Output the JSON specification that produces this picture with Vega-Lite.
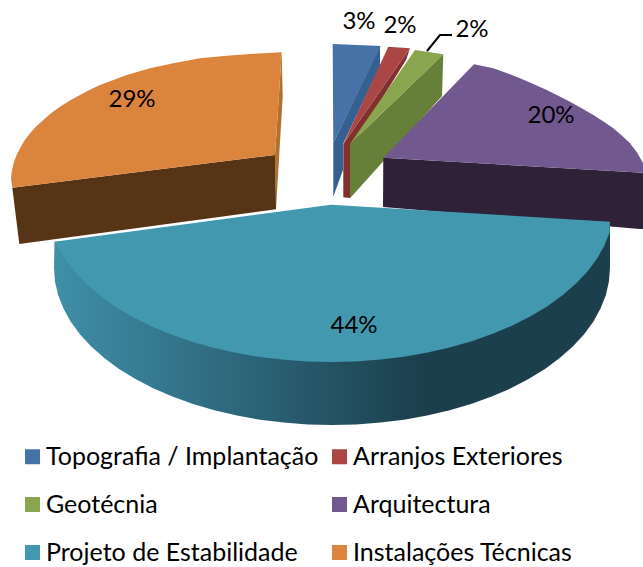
{
"$schema":"https://vega.github.io/schema/vega-lite/v6.json",
"width":643,"height":567,"padding":0,"autosize":{"type":"none"},
"background":"white",
"config":{"view":{"stroke":null}},
"datasets":{
"tops":[
{"slice":"Topografia / Implantação","order":1,"x":332.7,"y":44},{"slice":"Topografia / Implantação","order":2,"x":380.7,"y":46},{"slice":"Topografia / Implantação","order":3,"x":333.3,"y":143},
{"slice":"Arranjos Exteriores","order":1,"x":388.3,"y":46.7},{"slice":"Arranjos Exteriores","order":2,"x":410,"y":48.3},{"slice":"Arranjos Exteriores","order":3,"x":343.3,"y":144},
{"slice":"Geotécnia","order":1,"x":415,"y":50},{"slice":"Geotécnia","order":2,"x":443.3,"y":54.3},{"slice":"Geotécnia","order":3,"x":350,"y":144},
{"slice":"Arquitectura","order":1,"x":383.3,"y":157.7},{"slice":"Arquitectura","order":2,"x":474,"y":64.3},{"slice":"Arquitectura","order":3,"x":493.3,"y":68.3},{"slice":"Arquitectura","order":4,"x":506.5,"y":73},{"slice":"Arquitectura","order":5,"x":520,"y":78.3},{"slice":"Arquitectura","order":6,"x":533.3,"y":84},{"slice":"Arquitectura","order":7,"x":546.7,"y":90},{"slice":"Arquitectura","order":8,"x":558.3,"y":95.7},{"slice":"Arquitectura","order":9,"x":570,"y":101.7},{"slice":"Arquitectura","order":10,"x":581.7,"y":108.2},{"slice":"Arquitectura","order":11,"x":593.3,"y":115},{"slice":"Arquitectura","order":12,"x":603.5,"y":121.5},{"slice":"Arquitectura","order":13,"x":613.3,"y":128.3},{"slice":"Arquitectura","order":14,"x":621.8,"y":135.6},{"slice":"Arquitectura","order":15,"x":630,"y":143.3},{"slice":"Arquitectura","order":16,"x":637,"y":152.5},{"slice":"Arquitectura","order":17,"x":643,"y":163},{"slice":"Arquitectura","order":18,"x":643,"y":172.7},
{"slice":"Projeto de Estabilidade","order":1,"x":331,"y":204.7},{"slice":"Projeto de Estabilidade","order":2,"x":610,"y":221.7},{"slice":"Projeto de Estabilidade","order":3,"x":609.7,"y":232.3},{"slice":"Projeto de Estabilidade","order":4,"x":604.4,"y":245.6},{"slice":"Projeto de Estabilidade","order":5,"x":597,"y":258.7},{"slice":"Projeto de Estabilidade","order":6,"x":587.4,"y":271.4},{"slice":"Projeto de Estabilidade","order":7,"x":576.1,"y":283.5},{"slice":"Projeto de Estabilidade","order":8,"x":562.8,"y":295.1},{"slice":"Projeto de Estabilidade","order":9,"x":547.8,"y":305.9},{"slice":"Projeto de Estabilidade","order":10,"x":531.1,"y":316},{"slice":"Projeto de Estabilidade","order":11,"x":513,"y":325.3},{"slice":"Projeto de Estabilidade","order":12,"x":493.3,"y":333.6},{"slice":"Projeto de Estabilidade","order":13,"x":472.5,"y":341},{"slice":"Projeto de Estabilidade","order":14,"x":450.6,"y":347.2},{"slice":"Projeto de Estabilidade","order":15,"x":427.8,"y":352.6},{"slice":"Projeto de Estabilidade","order":16,"x":404.2,"y":356.7},{"slice":"Projeto de Estabilidade","order":17,"x":380.2,"y":359.6},{"slice":"Projeto de Estabilidade","order":18,"x":355.6,"y":361.4},{"slice":"Projeto de Estabilidade","order":19,"x":331,"y":362},{"slice":"Projeto de Estabilidade","order":20,"x":306.4,"y":361.4},{"slice":"Projeto de Estabilidade","order":21,"x":281.8,"y":359.6},{"slice":"Projeto de Estabilidade","order":22,"x":257.8,"y":356.7},{"slice":"Projeto de Estabilidade","order":23,"x":234.2,"y":352.6},{"slice":"Projeto de Estabilidade","order":24,"x":211.4,"y":347.2},{"slice":"Projeto de Estabilidade","order":25,"x":189.5,"y":341},{"slice":"Projeto de Estabilidade","order":26,"x":168.7,"y":333.6},{"slice":"Projeto de Estabilidade","order":27,"x":149,"y":325.3},{"slice":"Projeto de Estabilidade","order":28,"x":130.9,"y":316},{"slice":"Projeto de Estabilidade","order":29,"x":114.2,"y":305.9},{"slice":"Projeto de Estabilidade","order":30,"x":99.2,"y":295.1},{"slice":"Projeto de Estabilidade","order":31,"x":85.9,"y":283.5},{"slice":"Projeto de Estabilidade","order":32,"x":74.6,"y":271.4},{"slice":"Projeto de Estabilidade","order":33,"x":65,"y":258.7},{"slice":"Projeto de Estabilidade","order":34,"x":54.5,"y":241.7},
{"slice":"Instalações Técnicas","order":1,"x":281.7,"y":52.3},{"slice":"Instalações Técnicas","order":2,"x":250,"y":54},{"slice":"Instalações Técnicas","order":3,"x":226.7,"y":55.7},{"slice":"Instalações Técnicas","order":4,"x":200,"y":58.3},{"slice":"Instalações Técnicas","order":5,"x":173.3,"y":63.3},{"slice":"Instalações Técnicas","order":6,"x":150,"y":68.3},{"slice":"Instalações Técnicas","order":7,"x":126.7,"y":75},{"slice":"Instalações Técnicas","order":8,"x":100,"y":85},{"slice":"Instalações Técnicas","order":9,"x":89.8,"y":89.8},{"slice":"Instalações Técnicas","order":10,"x":80,"y":95},{"slice":"Instalações Técnicas","order":11,"x":69.8,"y":100.6},{"slice":"Instalações Técnicas","order":12,"x":60,"y":106.7},{"slice":"Instalações Técnicas","order":13,"x":51.3,"y":113},{"slice":"Instalações Técnicas","order":14,"x":43.3,"y":120},{"slice":"Instalações Técnicas","order":15,"x":36.3,"y":126.3},{"slice":"Instalações Técnicas","order":16,"x":30,"y":133.3},{"slice":"Instalações Técnicas","order":17,"x":24.5,"y":140.5},{"slice":"Instalações Técnicas","order":18,"x":20,"y":148.3},{"slice":"Instalações Técnicas","order":19,"x":16.6,"y":155},{"slice":"Instalações Técnicas","order":20,"x":14,"y":161.7},{"slice":"Instalações Técnicas","order":21,"x":12,"y":170},{"slice":"Instalações Técnicas","order":22,"x":11,"y":178.3},{"slice":"Instalações Técnicas","order":23,"x":12.3,"y":187.7},{"slice":"Instalações Técnicas","order":24,"x":275,"y":155}
],
"sides":[
{"part":"Instalações lateral","order":1,"x":281.7,"y":52.3},{"part":"Instalações lateral","order":2,"x":282.7,"y":96.7},{"part":"Instalações lateral","order":3,"x":276,"y":209.3},{"part":"Instalações lateral","order":4,"x":275,"y":155},
{"part":"Instalações frente","order":1,"x":12.3,"y":187.7},{"part":"Instalações frente","order":2,"x":275,"y":155},{"part":"Instalações frente","order":3,"x":276,"y":209.3},{"part":"Instalações frente","order":4,"x":19.3,"y":244},
{"part":"Topografia lateral","order":1,"x":333.3,"y":143},{"part":"Topografia lateral","order":2,"x":380,"y":46},{"part":"Topografia lateral","order":3,"x":380,"y":66},{"part":"Topografia lateral","order":4,"x":343,"y":144},{"part":"Topografia lateral","order":5,"x":343,"y":170},{"part":"Topografia lateral","order":6,"x":333.3,"y":196.7},
{"part":"Arranjos lateral","order":1,"x":343.3,"y":144},{"part":"Arranjos lateral","order":2,"x":410,"y":48.3},{"part":"Arranjos lateral","order":3,"x":406,"y":60},{"part":"Arranjos lateral","order":4,"x":350,"y":150},{"part":"Arranjos lateral","order":5,"x":350,"y":198},{"part":"Arranjos lateral","order":6,"x":343.3,"y":197.3},
{"part":"Geotécnia lateral","order":1,"x":350,"y":144},{"part":"Geotécnia lateral","order":2,"x":443.3,"y":54.3},{"part":"Geotécnia lateral","order":3,"x":442,"y":96},{"part":"Geotécnia lateral","order":4,"x":350,"y":198.3},
{"part":"Arquitectura frente","order":1,"x":383.3,"y":157.7},{"part":"Arquitectura frente","order":2,"x":643,"y":172.7},{"part":"Arquitectura frente","order":3,"x":643,"y":229},{"part":"Arquitectura frente","order":4,"x":640,"y":229},{"part":"Arquitectura frente","order":5,"x":383,"y":207}
],
"rim":[
{"order":1,"x":610,"y":221.7},{"order":2,"x":610,"y":268},{"order":3,"x":608.9,"y":281.7},{"order":4,"x":605.8,"y":295.3},{"order":5,"x":600.5,"y":308.6},{"order":6,"x":593.3,"y":321.7},{"order":7,"x":583.9,"y":334.4},{"order":8,"x":572.8,"y":346.5},{"order":9,"x":559.7,"y":358.1},{"order":10,"x":545,"y":369},{"order":11,"x":528.5,"y":379},{"order":12,"x":510.8,"y":388.3},{"order":13,"x":491.6,"y":396.6},{"order":14,"x":471,"y":404},{"order":15,"x":449.6,"y":410.2},{"order":16,"x":427.1,"y":415.6},{"order":17,"x":404,"y":419.7},{"order":18,"x":380.4,"y":422.6},{"order":19,"x":356.2,"y":424.4},{"order":20,"x":332,"y":425},{"order":21,"x":307.8,"y":424.4},{"order":22,"x":283.6,"y":422.6},{"order":23,"x":260,"y":419.7},{"order":24,"x":236.9,"y":415.6},{"order":25,"x":214.4,"y":410.2},{"order":26,"x":193,"y":404},{"order":27,"x":172.4,"y":396.6},{"order":28,"x":153.2,"y":388.3},{"order":29,"x":135.5,"y":379},{"order":30,"x":119,"y":369},{"order":31,"x":104.3,"y":358.1},{"order":32,"x":91.2,"y":346.5},{"order":33,"x":80.1,"y":334.4},{"order":34,"x":70.7,"y":321.7},{"order":35,"x":63.5,"y":308.6},{"order":36,"x":58.2,"y":295.3},{"order":37,"x":55,"y":281.7},{"order":38,"x":54,"y":268},{"order":39,"x":54.5,"y":241.7}
],
"labels":[
{"slice":"Topografia / Implantação","share":0.03,"x":359,"y":22},
{"slice":"Arranjos Exteriores","share":0.02,"x":400,"y":26},
{"slice":"Geotécnia","share":0.02,"x":472,"y":30},
{"slice":"Arquitectura","share":0.20,"x":551,"y":116},
{"slice":"Projeto de Estabilidade","share":0.44,"x":354,"y":326},
{"slice":"Instalações Técnicas","share":0.29,"x":132,"y":100}
],
"leader":[{"order":1,"x":427,"y":51},{"order":2,"x":440,"y":35},{"order":3,"x":452,"y":35}]
},
"encoding":{
"x":{"field":"x","type":"quantitative","scale":{"domain":[0,643]},"axis":null},
"y":{"field":"y","type":"quantitative","scale":{"domain":[567,0]},"axis":null},
"order":{"field":"order","type":"quantitative"}
},
"layer":[
{"data":{"name":"sides"},
 "mark":{"type":"line","strokeWidth":0},
 "encoding":{"fill":{"field":"part","type":"nominal","legend":null,"scale":{
  "domain":["Instalações lateral","Instalações frente","Topografia lateral","Arranjos lateral","Geotécnia lateral","Arquitectura frente"],
  "range":["#b0712f","#583417","#36608f","#80302e","#66803a","#2e2138"]}}}},
{"data":{"name":"rim"},
 "mark":{"type":"line","strokeWidth":0,"fill":{"gradient":"linear","x1":0,"x2":1,"y1":0,"y2":0,"stops":[{"offset":0,"color":"#3f8fa9"},{"offset":0.66,"color":"#1b3f4d"},{"offset":1,"color":"#1b3f4d"}]}}},
{"data":{"name":"tops"},
 "mark":{"type":"line","strokeWidth":0},
 "encoding":{"fill":{"field":"slice","type":"nominal","sort":null,"scale":{
  "domain":["Topografia / Implantação","Arranjos Exteriores","Geotécnia","Arquitectura","Projeto de Estabilidade","Instalações Técnicas"],
  "range":["#4572a7","#aa4643","#89a54e","#71588f","#4198af","#db843d"]},
  "legend":{"title":null,"orient":"none","direction":"horizontal","legendX":20,"legendY":444,"columns":2,"symbolType":"square","symbolSize":225,"symbolStrokeWidth":0,"labelFont":"Lato","labelFontSize":25,"labelColor":"#000","labelLimit":320,"columnPadding":8,"rowPadding":22,"symbolOffset":0,"labelOffset":1}}}},
{"data":{"name":"leader"},
 "mark":{"type":"line","color":"#000","strokeWidth":2}},
{"data":{"name":"labels"},
 "mark":{"type":"text","font":"Lato","fontSize":24,"color":"#000","align":"center","baseline":"middle"},
 "encoding":{"text":{"field":"share","type":"quantitative","format":".0%"},"order":null}}
],
"resolve":{"scale":{"fill":"independent"},"legend":{"fill":"independent"}}
}
